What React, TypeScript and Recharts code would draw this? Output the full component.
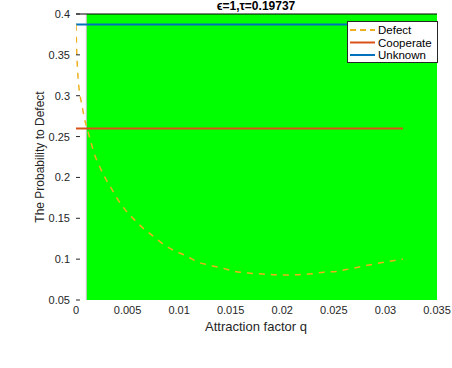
import React from 'react';
import {
  ComposedChart, Line, XAxis, YAxis, ReferenceArea, ReferenceLine, Customized,
} from 'recharts';

const qValues = [0, 0.00003, 0.0001, 0.0002, 0.0004, 0.0006, 0.0008, 0.0011, 0.00145, 0.0018, 0.0023, 0.0028, 0.0035, 0.0041, 0.0048, 0.0056, 0.0065, 0.0075, 0.0085, 0.0096, 0.0107, 0.0117, 0.013, 0.0142, 0.0154, 0.0167, 0.0178, 0.0191, 0.0204, 0.0216, 0.0228, 0.024, 0.0253, 0.0265, 0.0277, 0.0289, 0.0302, 0.0312, 0.0317];
const defectValues = [0.387, 0.37, 0.345, 0.322, 0.3, 0.287, 0.273, 0.259, 0.243, 0.228, 0.213, 0.2, 0.185, 0.172, 0.16, 0.149, 0.138, 0.128, 0.118, 0.11, 0.104, 0.097, 0.0925, 0.089, 0.085, 0.083, 0.082, 0.081, 0.0805, 0.081, 0.082, 0.084, 0.085, 0.088, 0.091, 0.094, 0.097, 0.099, 0.1];
const lineRange = [0, 0.0317];
const cooperateValue = 0.26;
const unknownValue = 0.387;
const greenRange = [0.001, 0.035];
const xTicks = [0, 0.005, 0.01, 0.015, 0.02, 0.025, 0.03, 0.035];
const yTicks = [0.05, 0.1, 0.15, 0.2, 0.25, 0.3, 0.35, 0.4];
const seriesNames = ['Defect', 'Cooperate', 'Unknown'];
const colors = { defect: '#EDB120', cooperate: '#D95319', unknown: '#0072BD' };

const defectData = qValues.map((q, i) => ({ q, v: defectValues[i] }));
const coopData = lineRange.map((q) => ({ q, v: cooperateValue }));
const unknownData = lineRange.map((q) => ({ q, v: unknownValue }));

const FONT = 'Liberation Sans, Arial, Helvetica, sans-serif';
const fmt = (v: number) => String(Number(v.toFixed(4)));

const YTick = (props: any) => {
  const { x, y, payload } = props;
  const ax = x + 6;
  return (
    <g>
      <line x1={ax} x2={ax + 4} y1={y} y2={y} stroke="#262626" strokeWidth={1} />
      <text x={x} y={y} dy={4} textAnchor="end" fontSize={11} fontFamily={FONT} fill="#262626">
        {fmt(payload.value)}
      </text>
    </g>
  );
};

const XTick = (props: any) => {
  const { x, y, payload } = props;
  return (
    <text x={x} y={y} dy={14} textAnchor="middle" fontSize={11} fontFamily={FONT} fill="#262626">
      {fmt(payload.value)}
    </text>
  );
};

const LegendBox = () => {
  const items = [
    { name: seriesNames[0], color: colors.defect, dash: '6 4' },
    { name: seriesNames[1], color: colors.cooperate, dash: undefined },
    { name: seriesNames[2], color: colors.unknown, dash: undefined },
  ];
  return (
    <svg width={91} height={42} style={{ position: 'absolute', left: 347, top: 21, display: 'block' }}>
      <rect x={0.5} y={0.5} width={90} height={41} fill="#fff" stroke="#262626" strokeWidth={1} />
      {items.map((it, i) => (
        <g key={it.name}>
          <line x1={3} x2={28} y1={9 + i * 12.5} y2={9 + i * 12.5} stroke={it.color} strokeWidth={2} strokeDasharray={it.dash} />
          <text x={31} y={9 + i * 12.5} dy={4} fontSize={11.5} fontFamily={FONT} fill="#000">{it.name}</text>
        </g>
      ))}
    </svg>
  );
};

const Texts = () => (
  <g fontFamily={FONT}>
    <text x={256} y={10} textAnchor="middle" fontSize={12} fontWeight="bold" fill="#000">
      {'\u03F5=1,\u03C4=0.19737'}
    </text>
    <text x={256} y={327} dy={4} textAnchor="middle" fontSize={13} fill="#262626">Attraction factor q</text>
    <text x={40} y={157} dy={4} textAnchor="middle" fontSize={12} fill="#262626" transform="rotate(-90 40 157)">
      The Probability to Defect
    </text>
  </g>
);

export default function App() {
  return (
    <div style={{ position: 'absolute', left: 0, top: 0, width: 452, height: 368, background: '#fff' }}>
      <ComposedChart width={452} height={368} margin={{ top: 14, right: 15, bottom: 38, left: 30 }}>
        <XAxis
          type="number"
          dataKey="q"
          domain={[0, 0.035]}
          ticks={xTicks}
          allowDataOverflow
          axisLine={false}
          tickLine={false}
          tickSize={0}
          tickMargin={0}
          height={30}
          tick={<XTick />}
          interval={0}
        />
        <YAxis
          type="number"
          dataKey="v"
          domain={[0.05, 0.4]}
          ticks={yTicks}
          allowDataOverflow
          axisLine={false}
          tickLine={false}
          tickSize={0}
          tickMargin={6}
          width={46}
          tick={<YTick />}
          interval={0}
        />
        <ReferenceArea x1={greenRange[0]} x2={greenRange[1]} y1={0.05} y2={0.4} fill="#00FF00" fillOpacity={1} stroke="none" />
        <ReferenceLine x={greenRange[0]} stroke="#c4c4c4" strokeWidth={1} />
        <ReferenceLine y={0.4} stroke="#000" strokeWidth={1} />
        <Line data={coopData} dataKey="v" name={seriesNames[1]} stroke={colors.cooperate} strokeWidth={2} dot={false} isAnimationActive={false} />
        <Line data={unknownData} dataKey="v" name={seriesNames[2]} stroke={colors.unknown} strokeWidth={2} dot={false} isAnimationActive={false} />
        <Line data={defectData} dataKey="v" name={seriesNames[0]} type="monotone" stroke={colors.defect} strokeWidth={1.5} strokeDasharray="6 6" dot={false} isAnimationActive={false} />
        <Customized component={Texts} />
      </ComposedChart>
      <LegendBox />
    </div>
  );
}
